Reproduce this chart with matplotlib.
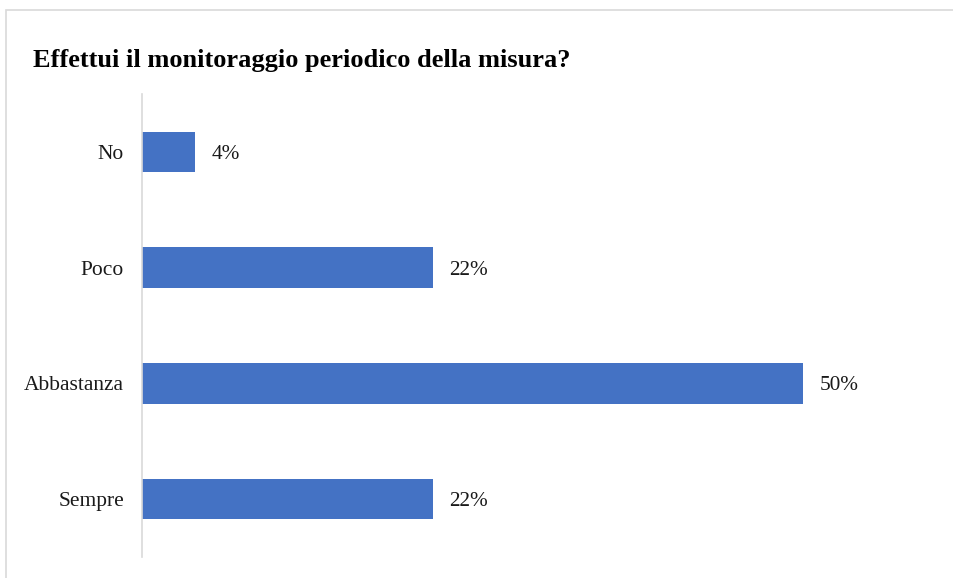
import matplotlib
matplotlib.use("Agg")
import matplotlib.pyplot as plt
from matplotlib.patches import Rectangle

categories = ["No", "Poco", "Abbastanza", "Sempre"]
values = [4, 22, 50, 22]
title = "Effettui il monitoraggio periodico della misura?"

W, H = 954, 578
fig = plt.figure(figsize=(W / 100, H / 100), dpi=100)
plt.rcParams["font.family"] = ["Liberation Serif", "DejaVu Serif"]

# outer chart frame (open towards right/bottom edges)
fig.add_artist(Rectangle((6 / W, -0.1), 1.2, (H - 10) / H + 0.1,
                         transform=fig.transFigure, fill=False,
                         edgecolor="#d9d9d9", linewidth=1.2))

ax = fig.add_axes([142 / W, 1 - 557 / H, (935 - 142) / W, (557 - 94) / H])
y = list(range(len(categories)))
ax.barh(y, values, height=0.35, color="#4472C4")
ax.set_ylim(len(categories) - 0.5, -0.5)
ax.set_xlim(0, 60)
ax.set_yticks(y)
ax.set_yticklabels(categories, fontsize=15.5, color="#1a1a1a")
ax.tick_params(axis="y", length=0, pad=13)
ax.set_xticks([])
for s in ["top", "right", "bottom"]:
    ax.spines[s].set_visible(False)
ax.spines["left"].set_color("#d9d9d9")
ax.spines["left"].set_linewidth(1.2)

for yi, v in zip(y, values):
    ax.annotate(f"{v}%", xy=(v, yi), xytext=(12, 0), textcoords="offset points",
                va="center_baseline", ha="left", fontsize=15.3, color="#1a1a1a")

fig.text(33 / W, 1 - 60 / H, title, fontsize=19, fontweight="bold",
         va="center", ha="left")

fig.savefig("out.png", dpi=100)
